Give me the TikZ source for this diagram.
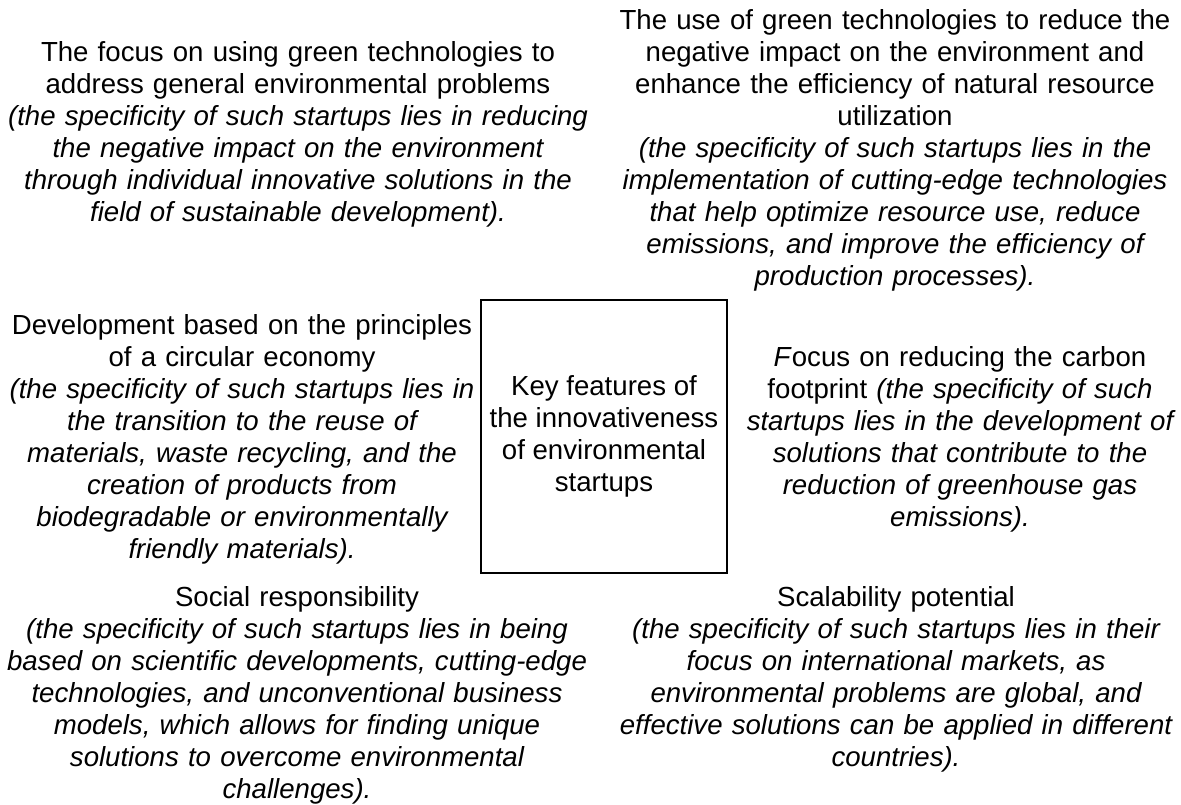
\documentclass[tikz,border=0pt]{standalone}
\usepackage{fontspec}
\setmainfont{Liberation Sans}
\begin{document}
\begin{tikzpicture}[x=1pt,y=-1pt,
  txt/.style={text width=#1, align=center, inner sep=0pt,
    font=\fontsize{27.6}{32}\selectfont},
  keybox/.style={draw, line width=2pt, minimum width=246pt, minimum height=273pt,
    inner sep=0pt, align=center, font=\fontsize{27.6}{32}\selectfont}]
\useasboundingbox (0,0) rectangle (1181,805);

% central box
\node[keybox] (key) at (604,436.5) {Key features of\\the innovativeness\\of environmental\\startups};

% upper row
\node[txt=600pt] (tl) at (298,134) {The focus on using green technologies to\\
address general environmental problems\\
\itshape (the specificity of such startups lies in reducing\\
the negative impact on the environment\\
through individual innovative solutions in the\\
field of sustainable development).};

\node[txt=600pt] (tr) at (895,150) {The use of green technologies to reduce the\\
negative impact on the environment and\\
enhance the efficiency of natural resource\\
utilization\\
\itshape (the specificity of such startups lies in the\\
implementation of cutting-edge technologies\\
that help optimize resource use, reduce\\
emissions, and improve the efficiency of\\
production processes).};

% middle row
\node[txt=480pt] (ml) at (242,439) {Development based on the principles\\
of a circular economy\\
\itshape (the specificity of such startups lies in\\
the transition to the reuse of\\
materials, waste recycling, and the\\
creation of products from\\
biodegradable or environmentally\\
friendly materials).};

\node[txt=440pt] (mr) at (960,439) {\textit{F}ocus on reducing the carbon\\
footprint \itshape (the specificity of such\\
startups lies in the development of\\
solutions that contribute to the\\
reduction of greenhouse gas\\
emissions).};

% lower row
\node[txt=600pt] (bl) at (297,695) {Social responsibility\\
\itshape (the specificity of such startups lies in being\\
based on scientific developments, cutting-edge\\
technologies, and unconventional business\\
models, which allows for finding unique\\
solutions to overcome environmental\\
challenges).};

\node[txt=600pt] (br) at (896,679) {Scalability potential\\
\itshape (the specificity of such startups lies in their\\
focus on international markets, as\\
environmental problems are global, and\\
effective solutions can be applied in different\\
countries).};
\end{tikzpicture}
\end{document}
